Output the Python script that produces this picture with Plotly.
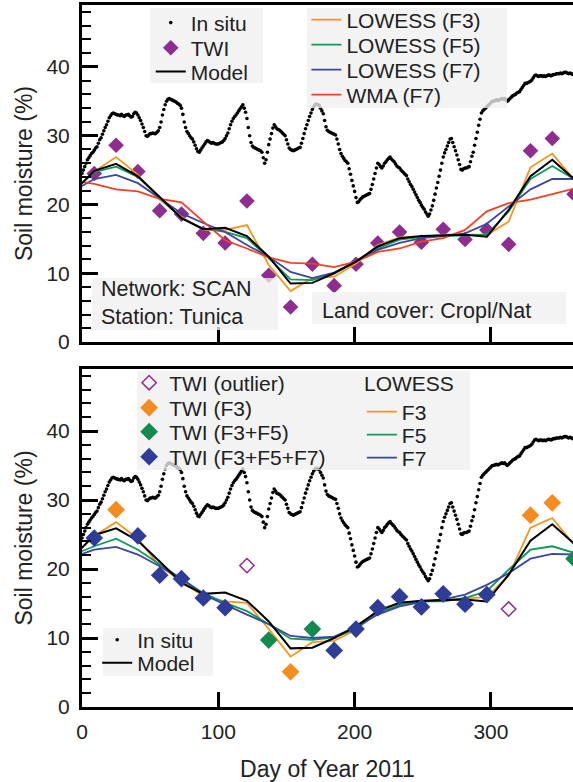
import plotly.graph_objects as go

# ---------------- data ----------------
insitu_start_day = 0
insitu = [
    24.5, 25.0, 25.5, 26.0, 26.5, 26.8, 27.1, 27.4, 27.6, 27.9,
    28.2, 28.4, 28.9, 29.4, 29.7, 30.2, 30.7, 31.2, 31.6, 32.1,
    32.6, 32.9, 33.2, 33.3, 33.2, 33.1, 33.0, 33.0, 32.9, 33.1,
    32.9, 32.8, 33.0, 33.0, 33.1, 32.9, 32.7, 32.8, 33.2, 33.4,
    33.3, 33.0, 32.6, 32.2, 31.7, 31.2, 30.6, 30.0, 29.9, 30.1,
    30.3, 30.3, 30.4, 30.3, 30.3, 30.5, 30.7, 31.2, 32.0, 33.0,
    33.8, 34.5, 35.0, 35.3, 35.4, 35.3, 35.2, 35.1, 35.0, 34.9,
    34.7, 34.6, 34.4, 34.0, 33.1, 32.0, 31.2, 30.6, 30.3, 30.0,
    29.7, 29.5, 29.1, 28.6, 28.1, 27.7, 27.6, 27.9, 28.2, 28.5,
    28.8, 29.1, 29.3, 29.2, 29.0, 28.9, 29.0, 28.9, 28.8, 28.8,
    28.8, 28.9, 29.0, 29.1, 29.3, 29.6, 30.0, 30.4, 31.0, 31.6,
    32.1, 32.5, 32.8, 33.0, 33.3, 33.6, 33.9, 34.2, 34.5, 34.0,
    33.4, 32.5, 31.2, 30.0, 29.0, 28.5, 28.3, 28.2, 28.1, 28.0,
    27.9, 27.8, 27.6, 26.8, 26.0, 26.5, 27.6, 28.7, 29.5, 30.3,
    31.1, 31.6, 31.3, 31.0, 30.9, 30.8, 30.6, 30.4, 30.2, 30.0,
    29.4, 28.8, 28.2, 28.0, 27.9, 27.8, 27.9, 28.0, 28.1, 28.2,
    28.3, 28.9, 29.6, 30.3, 31.0, 31.6, 32.2, 32.8, 33.3, 33.8,
    34.2, 34.5, 34.6, 34.5, 34.4, 34.0, 33.6, 33.2, 32.2, 31.3,
    30.8, 30.6, 30.5, 30.4, 30.3, 30.2, 30.1, 29.5, 28.8, 28.0,
    27.4, 27.0, 26.7, 26.4, 26.2, 26.0, 25.2, 24.4, 23.5, 22.7,
    21.9, 21.0, 20.3, 20.4, 20.7, 20.9, 21.1, 21.2, 21.3, 21.4,
    21.5, 21.6, 22.2, 22.9, 23.7, 24.5, 25.3, 26.0, 25.8, 25.5,
    25.3, 25.6, 26.0, 26.2, 26.5, 26.7, 26.9, 26.6, 26.4, 26.2,
    25.9, 25.6, 25.4, 25.3, 25.0, 24.8, 24.6, 24.4, 24.2, 23.7,
    23.3, 22.9, 22.6, 22.2, 21.8, 21.4, 21.0, 20.6, 20.3, 19.9,
    19.6, 19.3, 18.9, 18.6, 18.3, 18.6, 19.2, 19.8, 20.6, 21.5,
    22.4, 23.2, 24.1, 25.0, 26.0, 26.9, 27.5, 28.0, 28.5, 29.0,
    29.5, 29.6, 29.0, 28.4, 27.8, 27.2, 26.5, 25.8, 25.1, 25.0,
    25.2, 25.3, 25.3, 25.4, 25.5, 26.2, 27.0, 27.6, 28.6, 29.6,
    30.5, 31.5, 32.4, 33.3, 33.6, 33.8, 34.0, 34.2, 34.4, 34.6,
    34.8, 35.0, 35.0, 35.1, 35.2, 35.1, 35.2, 35.3, 35.4, 35.3,
    35.4, 35.2, 35.0, 35.2, 35.4, 35.6, 35.8, 35.9, 36.0, 36.2,
    36.3, 36.4, 36.7, 37.0, 37.3, 37.6, 37.6, 37.7, 37.8, 37.9,
    38.1, 38.4, 38.7, 38.8, 38.7, 38.6, 38.7, 38.7, 38.6, 38.7,
    38.6, 38.7, 38.8, 38.8, 38.7, 38.8, 38.9, 38.9, 39.0, 39.0,
    39.0, 39.1, 39.0, 39.1, 39.2, 39.2, 39.1, 39.0, 39.1, 39.0,
    38.9,
]
insitu_days = list(range(insitu_start_day, insitu_start_day + len(insitu)))

# TWI acquisition days and values
twi_days = [9, 25, 41, 57, 73, 89, 105, 121, 137, 153, 169, 185, 201, 217,
            233, 249, 265, 281, 297, 313, 329, 345, 361]
twi_vals = [24.5, 28.6, 24.8, 19.1, 18.6, 15.8, 14.4, 20.5, 9.7, 5.1, 11.3, 8.2,
            11.3, 14.4, 16.0, 14.5, 16.4, 14.9, 16.3, 14.2, 27.8, 29.6, 21.5]
# class of each TWI point in the lower panel
twi_class = ["F3F5F7", "F3", "F3F5F7", "F3F5F7", "F3F5F7", "F3F5F7", "F3F5F7",
             "outlier", "F3F5", "F3", "F3F5", "F3F5F7", "F3F5F7", "F3F5F7",
             "F3F5F7", "F3F5F7", "F3F5F7", "F3F5F7", "F3F5F7", "outlier",
             "F3", "F3", "F3F5"]

# smoothed series (vertices on TWI dates, plus one preceding date)
line_days = [-7, 9, 25, 41, 57, 73, 89, 105, 121, 137, 153, 169, 185, 201, 217,
             233, 249, 265, 281, 297, 313, 329, 345, 361]
model = [21.7, 24.9, 25.9, 24.1, 21.1, 18.0, 16.4, 16.6, 15.4, 12.4, 8.5, 8.6,
         10.0, 11.7, 13.9, 15.1, 15.4, 15.5, 15.6, 15.3, 19.2, 24.1, 26.5, 23.7]
lowess_f3 = [21.8, 24.8, 26.9, 24.3, 20.7, 18.2, 16.3, 16.3, 17.0, 11.2, 7.4, 9.3,
             9.5, 11.4, 14.1, 15.2, 15.3, 15.6, 15.6, 15.6, 17.5, 25.4, 27.4, 23.6]
lowess_f5 = [21.85, 24.7, 25.5, 24.0, 21.0, 18.0, 16.5, 16.0, 15.1, 12.2, 9.1, 9.0,
             10.0, 11.8, 13.6, 14.9, 15.3, 15.4, 15.5, 15.6, 19.0, 23.7, 25.6, 23.7]
lowess_f7 = [21.9, 23.7, 24.3, 23.1, 20.9, 18.7, 17.3, 16.0, 14.1, 12.4, 10.2, 9.3,
             10.1, 11.7, 13.4, 14.4, 15.1, 15.4, 15.8, 17.2, 19.7, 22.2, 23.7, 23.7]
wma_f7 = [23.5, 23.0, 22.2, 21.9, 20.8, 20.3, 17.5, 14.8, 13.6, 12.3, 11.5, 11.4,
          10.9, 11.7, 13.1, 13.6, 14.6, 15.1, 16.3, 19.0, 20.2, 20.7, 21.5, 22.3]

# lower panel LOWESS after outlier removal
lowess_f3_b = [21.6, 24.8, 26.8, 24.4, 20.4, 18.2, 16.05, 15.3, 15.1, 11.3, 7.3, 9.4,
               9.6, 11.2, 14.1, 15.1, 15.4, 15.6, 15.7, 15.95, 19.0, 26.0, 27.4, 23.5]
lowess_f5_b = [22.05, 23.3, 24.4, 22.8, 20.7, 18.6, 16.5, 15.1, 13.9, 12.0, 9.9, 9.75,
               10.1, 11.3, 13.6, 14.8, 15.3, 15.3, 15.8, 16.8, 19.9, 22.8, 23.3, 22.35]
lowess_f7_b = [21.7, 22.8, 23.2, 22.1, 20.4, 18.6, 16.3, 14.8, 13.4, 12.0, 10.3, 10.0,
               10.2, 11.6, 13.4, 14.6, 15.2, 15.6, 16.3, 17.7, 19.4, 21.5, 22.2, 22.1]

x_ticks = [0, 100, 200, 300]
y_ticks = [0, 10, 20, 30, 40]

# ---------------- styles ----------------
FONT = "Liberation Sans, Arial, Helvetica, sans-serif"
TXT = "#222"
PURPLE = "#8E2C90"
ORANGE = "#F7941D"
GREEN = "#0E9A57"
BLUE = "#3A46A0"
RED = "#EF4123"
BOX = "rgba(240,240,240,0.78)"
LEG_FS = 21

# one legend per entry so entries can be spaced like the original
# (legend id -> (x paper of box left, y paper of entry centre))
legend_pos = {
    "legend":   (0.1400, 0.9744),   # In situ (top)
    "legend2":  (0.1400, 0.9387),   # TWI
    "legend3":  (0.1400, 0.9046),   # Model (top)
    "legend4":  (0.4570, 0.9786),   # LOWESS (F3)
    "legend5":  (0.4570, 0.9430),   # LOWESS (F5)
    "legend6":  (0.4570, 0.9074),   # LOWESS (F7)
    "legend7":  (0.4570, 0.8718),   # WMA (F7)
    "legend8":  (0.0960, 0.4615),   # TWI (outlier)
    "legend9":  (0.0960, 0.4259),   # TWI (F3)
    "legend10": (0.0960, 0.3917),   # TWI (F3+F5)
    "legend11": (0.0960, 0.3561),   # TWI (F3+F5+F7)
    "legend12": (0.5700, 0.4202),   # F3
    "legend13": (0.5700, 0.3875),   # F5
    "legend14": (0.5700, 0.3547),   # F7
    "legend15": (0.0310, 0.0954),   # In situ (bottom)
    "legend16": (0.0310, 0.0627),   # Model (bottom)
}

fig = go.Figure()

# ---- top panel ----
fig.add_trace(go.Scatter(x=insitu_days, y=insitu, mode="markers", name="In situ",
                         marker=dict(color="black", size=3.6), legend="legend",
                         xaxis="x", yaxis="y"))
fig.add_trace(go.Scatter(x=twi_days, y=twi_vals, mode="markers", name="TWI",
                         marker=dict(symbol="diamond", color=PURPLE, size=12),
                         legend="legend2", xaxis="x", yaxis="y"))
for lg, name, vals, col in [("legend4", "LOWESS (F3)", lowess_f3, ORANGE),
                            ("legend5", "LOWESS (F5)", lowess_f5, GREEN),
                            ("legend6", "LOWESS (F7)", lowess_f7, BLUE),
                            ("legend7", "WMA (F7)", wma_f7, RED)]:
    fig.add_trace(go.Scatter(x=line_days, y=vals, mode="lines", name=name,
                             line=dict(color=col, width=1.8), legend=lg,
                             xaxis="x", yaxis="y"))
fig.add_trace(go.Scatter(x=line_days, y=model, mode="lines", name="Model",
                         line=dict(color="black", width=2), legend="legend3",
                         xaxis="x", yaxis="y"))

# ---- bottom panel ----
fig.add_trace(go.Scatter(x=insitu_days, y=insitu, mode="markers", name="In situ",
                         marker=dict(color="black", size=3.6), legend="legend15",
                         xaxis="x2", yaxis="y2"))
for lg, name, vals, col in [("legend12", "F3", lowess_f3_b, ORANGE),
                            ("legend13", "F5", lowess_f5_b, GREEN),
                            ("legend14", "F7", lowess_f7_b, BLUE)]:
    fig.add_trace(go.Scatter(x=line_days, y=vals, mode="lines", name=name,
                             line=dict(color=col, width=1.8), legend=lg,
                             xaxis="x2", yaxis="y2"))
fig.add_trace(go.Scatter(x=line_days, y=model, mode="lines", name="Model",
                         line=dict(color="black", width=2), legend="legend16",
                         xaxis="x2", yaxis="y2"))

classes = [("legend8", "outlier", "TWI (outlier)", "diamond-open", PURPLE, 11),
           ("legend9", "F3", "TWI (F3)", "diamond", "#F68B1F", 12),
           ("legend10", "F3F5", "TWI (F3+F5)", "diamond", "#138A4E", 12),
           ("legend11", "F3F5F7", "TWI (F3+F5+F7)", "diamond", "#2E3D98", 12)]
for lg, key, label, sym, col, sz in classes:
    xs = [d for d, c in zip(twi_days, twi_class) if c == key]
    ys = [v for v, c in zip(twi_vals, twi_class) if c == key]
    fig.add_trace(go.Scatter(x=xs, y=ys, mode="markers", name=label,
                             marker=dict(symbol=sym, color=col, size=sz,
                                         line=dict(color=col, width=1.5)),
                             legend=lg, xaxis="x2", yaxis="y2"))

# ---------------- layout ----------------
axis_common = dict(showline=True, linecolor="black", linewidth=3, showgrid=False,
                   zeroline=False, ticks="inside", tickcolor="black",
                   tickfont=dict(family=FONT, size=21, color=TXT))
xcommon = dict(axis_common, range=[0, 360.2], tickvals=x_ticks, ticklen=15,
               tickwidth=3, mirror=True)
ycommon = dict(axis_common, range=[0, 49], tickvals=y_ticks, ticklen=16,
               tickwidth=3, ticklabelstandoff=5,
               minor=dict(dtick=2, ticks="inside", ticklen=9, tickwidth=2,
                          tickcolor="black"),
               title=dict(text="Soil moisture (%)", standoff=8,
                          font=dict(family=FONT, size=23, color=TXT)))

layout_legends = {}
for lg, (lx, ly) in legend_pos.items():
    layout_legends[lg] = dict(x=lx, y=ly, xanchor="left", yanchor="middle",
                              xref="paper", yref="paper",
                              bgcolor="rgba(0,0,0,0)", borderwidth=0,
                              font=dict(family=FONT, size=LEG_FS, color=TXT),
                              itemwidth=30)

fig.update_layout(
    width=573, height=782,
    margin=dict(l=82, r=0, t=5, b=75, autoexpand=False),
    plot_bgcolor="white", paper_bgcolor="white",
    showlegend=True,
    font=dict(family=FONT, color=TXT),
    xaxis=dict(xcommon, domain=[0, 1], anchor="y", showticklabels=False),
    yaxis=dict(ycommon, domain=[0.5199, 1], anchor="x"),
    xaxis2=dict(xcommon, domain=[0, 1], anchor="y2", showticklabels=True,
                ticklabelstandoff=4,
                title=dict(text="Day of Year 2011", standoff=20,
                           font=dict(family=FONT, size=23, color=TXT))),
    yaxis2=dict(ycommon, domain=[0, 0.4815], anchor="x2"),
    **layout_legends,
)

# translucent boxes behind legends and labels (drawn above the data)
boxes = [(0.1385, 0.3686, 0.8889, 0.9957),
         (0.4582, 0.8656, 0.8533, 0.9957),
         (0.0204, 0.3992, 0.5370, 0.6111),
         (0.4684, 0.9857, 0.5456, 0.5912),
         (0.1120, 0.7902, 0.3376, 0.4786),
         (0.0428, 0.2668, 0.0442, 0.1125)]
for x0, x1, y0, y1 in boxes:
    fig.add_shape(type="rect", xref="paper", yref="paper", x0=x0, x1=x1, y0=y0,
                  y1=y1, fillcolor=BOX, line=dict(width=0), layer="above")

fig.add_annotation(xref="paper", yref="paper", x=0.0346, y=0.5762,
                   xanchor="left", yanchor="middle", align="left", showarrow=False,
                   text="Network: SCAN<br>Station: Tunica",
                   font=dict(family=FONT, size=21.5, color=TXT))
fig.add_annotation(xref="paper", yref="paper", x=0.4847, y=0.5641,
                   xanchor="left", yanchor="middle", align="left", showarrow=False,
                   text="Land cover: Cropl/Nat",
                   font=dict(family=FONT, size=21.5, color=TXT))
fig.add_annotation(xref="paper", yref="paper", x=0.5703, y=0.4615,
                   xanchor="left", yanchor="middle", align="left", showarrow=False,
                   text="LOWESS", font=dict(family=FONT, size=LEG_FS, color=TXT))

fig.write_html("out.html")
